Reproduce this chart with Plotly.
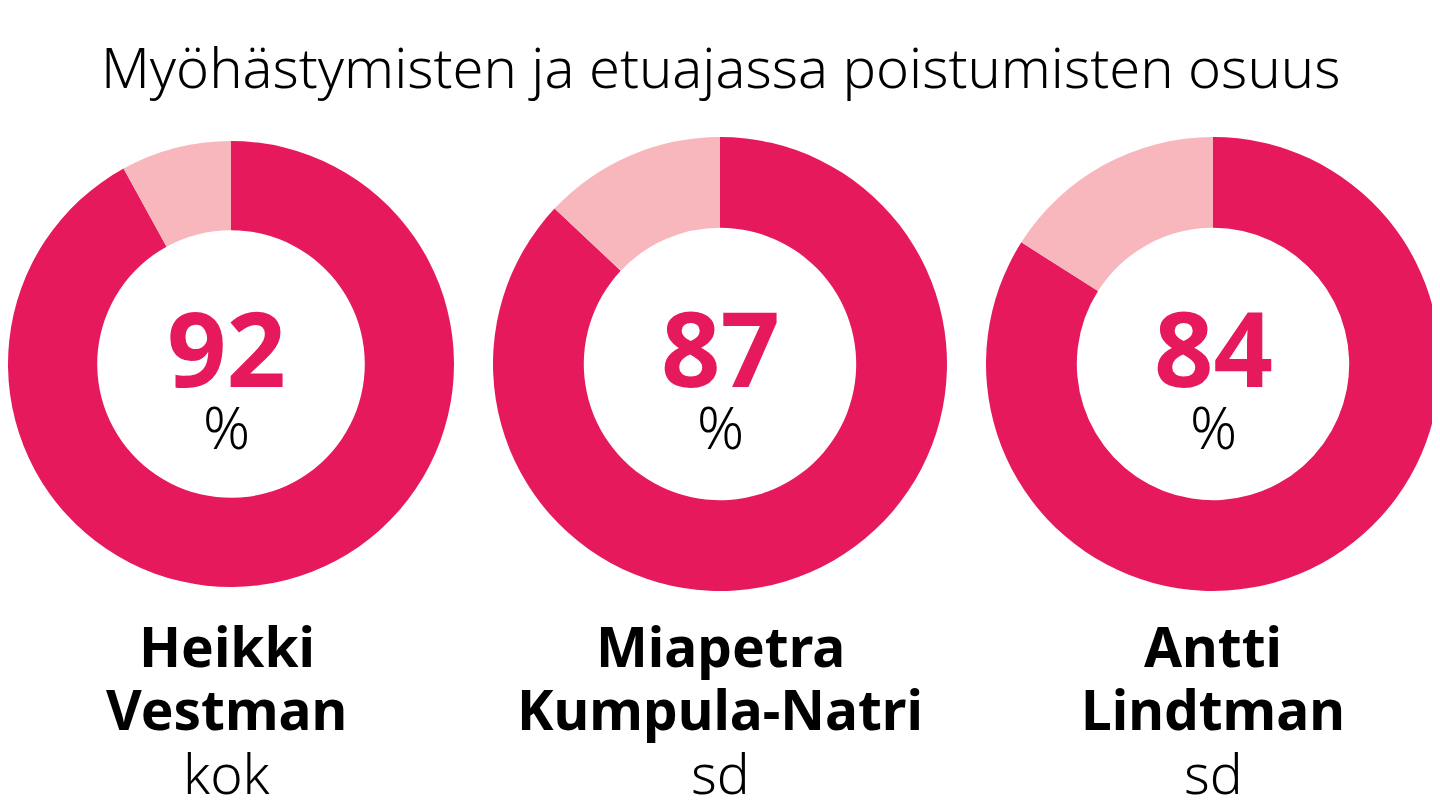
import plotly.graph_objects as go

title = "Myöhästymisten ja etuajassa poistumisten osuus"
first_names = ["Heikki", "Miapetra", "Antti"]
last_names = ["Vestman", "Kumpula-Natri", "Lindtman"]
parties = ["kok", "sd", "sd"]
shares = [92, 87, 84]

W, H = 1440, 810
pink = "#E5195C"
light = "#F7B7BC"
font = "Noto Sans"

# the page puts the figure 8px in from the top-left corner, so positions
# below are in figure pixels (screen pixels minus 8)
centers = [219, 712, 1205]   # donut centres, x
cy = 356                     # donut centre, y
r = 227

fig = go.Figure()

for i, share in enumerate(shares):
    cx = centers[i]
    x0, x1 = max(cx - r, 0), cx + r
    rr = (x1 - x0) / 2
    cx = (x0 + x1) / 2
    fig.add_trace(go.Pie(
        values=[share, 100 - share],
        marker=dict(colors=[pink, light], line=dict(width=0)),
        hole=0.6,
        sort=False,
        direction="clockwise",
        rotation=0,
        textinfo="none",
        hoverinfo="skip",
        showlegend=False,
        domain=dict(x=[x0 / W, x1 / W], y=[1 - (cy + rr) / H, 1 - (cy - rr) / H]),
    ))

    def ann(text, ypx, size, color="black", weight="normal"):
        fig.add_annotation(
            x=centers[i] / W, y=1 - ypx / H, xref="paper", yref="paper",
            text=text, showarrow=False, xanchor="center", yanchor="middle",
            font=dict(family=font, size=size, color=color, weight=weight),
        )

    ann(str(share), 338, 104, pink, "bold")
    ann("%", 418, 58, "black", 300)
    ann(first_names[i], 637, 55, "black", "bold")
    ann(last_names[i], 700, 55, "black", "bold")
    ann(parties[i], 764, 55, "black", 300)

fig.add_annotation(
    x=712 / W, y=1 - 58 / H, xref="paper", yref="paper",
    text=title, showarrow=False, xanchor="center", yanchor="middle",
    font=dict(family=font, size=56, color="black", weight=300),
)

fig.update_layout(
    width=W, height=H,
    margin=dict(l=0, r=0, t=0, b=0),
    paper_bgcolor="white",
    plot_bgcolor="white",
)

fig.write_html("out.html")
